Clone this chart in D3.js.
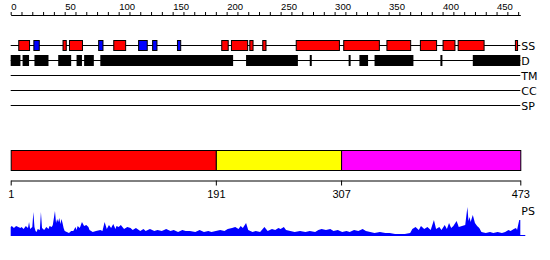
<!DOCTYPE html>
<html>
<head>
<meta charset="utf-8">
<script src="https://cdn.jsdelivr.net/npm/d3@7"></script>
<style>
  body { margin:0; background:#fff; }
  svg { display:block; font-family:"DejaVu Sans", sans-serif; }
</style>
</head>
<body>
<div id="chart"></div>
<script>
// protein feature map: residues 1..473

const seqLength = 473;

// secondary structure: [start, end, type]  H = helix (red), E = strand (blue)
const ssElements = [
  [8,18,'H'],[22,27,'E'],[49,52,'H'],[55,67,'H'],[82,86,'E'],[96,107,'H'],
  [119,127,'E'],[132,136,'E'],[155,158,'E'],[196,202,'H'],[205,220,'H'],
  [222,225,'H'],[234,237,'H'],[265,305,'H'],[309,342,'H'],[349,371,'H'],
  [380,395,'H'],[401,412,'H'],[415,439,'H'],[468,470,'H']
];

// disordered regions
const disorder = [
  [1,10],[12,18],[23,36],[45,57],[62,67],[69,78],[84,207],[219,267],
  [278,279],[314,315],[324,332],[338,374],[399,400],[429,473]
];

const trackNames = ['SS','D','TM','CC','SP'];

// domains
const domains = [[1,191,'#ff0000'],[191,307,'#ffff00'],[307,473,'#ff00ff']];
const domainTicks = [1,191,307,473];

// PS profile, sampled: [residue, value]
const psProfile = [
  [1,8],[2,9],[4,7],[6,9],[8,8],[10,7],[11,8],[13,6],[15,9],[17,7],[18,13],[19,6],
  [21,8],[22,23],[23,8],[24,4],[25,3],[26,6],[28,5],[29,23],[30,7],[32,5],[34,8],
  [36,6],[37,9],[39,8],[40,10],[42,24],[43,12],[44,16],[45,13],[46,17],[47,11],
  [48,16],[49,12],[50,7],[51,4],[53,3],[55,2],[57,4],[59,4],[61,8],[62,5],[63,9],
  [65,7],[67,13],[69,9],[71,10],[73,8],[74,5],[77,3],[80,4],[84,5],[86,4],[88,13],
  [90,6],[92,10],[94,7],[96,11],[98,6],[99,9],[101,8],[103,10],[106,6],[109,8],
  [112,7],[114,5],[117,7],[121,4],[124,6],[126,4],[130,6],[134,4],[137,5],[141,4],
  [145,6],[149,4],[152,5],[156,3],[160,5],[163,4],[167,4],[172,3],[176,5],[180,3],
  [184,4],[187,3],[191,4],[195,5],[199,4],[202,6],[206,7],[209,8],[212,6],[214,9],
  [216,7],[219,12],[221,5],[225,3],[228,4],[232,3],[236,8],[239,4],[243,6],[246,5],
  [249,7],[251,6],[254,8],[256,5],[260,4],[264,3],[269,4],[274,3],[278,4],[283,3],
  [286,5],[289,6],[293,5],[297,6],[300,4],[304,5],[308,3],[312,4],[315,3],[319,5],
  [323,4],[327,6],[330,4],[334,3],[338,2],[343,3],[348,2],[352,2],[357,1],[361,1],
  [366,1],[371,2],[373,6],[376,8],[379,5],[381,9],[384,6],[387,8],[390,5],[393,15],
  [395,6],[398,8],[400,5],[403,10],[405,6],[407,12],[409,7],[411,9],[414,14],[416,8],
  [419,9],[422,10],[424,28],[425,14],[426,18],[427,13],[429,20],[431,12],[433,9],
  [435,7],[437,3],[441,2],[445,3],[448,2],[452,3],[456,2],[459,3],[462,5],[464,4],
  [467,6],[469,7],[470,5],[472,15],[473,15]
];

const W = 550, H = 260;
const svg = d3.select('#chart').append('svg').attr('width',W).attr('height',H);

const x = d3.scaleLinear().domain([1,seqLength]).range([10.7,520.3]);
const xTop = x.copy().domain([0,seqLength-1]);

// top ruler
const topAxis = d3.axisTop(xTop)
  .tickValues(d3.range(0,seqLength,10))
  .tickSize(3).tickSizeOuter(0).tickPadding(2)
  .tickFormat(d => d%50===0 ? d : '');
const gTop = svg.append('g').attr('transform','translate(0,15)').call(topAxis);
gTop.selectAll('text').attr('text-anchor','start').attr('font-size',9.5).attr('fill','#000');
gTop.selectAll('path,line').attr('stroke','#000');

// tracks
const trackY = d3.scalePoint().domain(trackNames).range([45,105]);
svg.append('g').selectAll('line').data(trackNames).join('line')
  .attr('x1',x(1)).attr('x2',x(seqLength))
  .attr('y1',d=>trackY(d)+0.5).attr('y2',d=>trackY(d)+0.5)
  .attr('stroke','#000');
svg.append('g').selectAll('text').data(trackNames).join('text')
  .attr('x',x(seqLength)+1).attr('y',d=>trackY(d)+4.5)
  .attr('font-size',11).text(d=>d);

svg.append('g').selectAll('rect').data(ssElements).join('rect')
  .attr('x',d=>x(d[0])+0.5).attr('width',d=>x(d[1])-x(d[0]))
  .attr('y',trackY('SS')-4.5).attr('height',10)
  .attr('fill',d=>d[2]==='H'?'#ff0000':'#0000ff').attr('stroke','#000');

svg.append('g').selectAll('rect').data(disorder).join('rect')
  .attr('x',d=>x(d[0])).attr('width',d=>Math.max(2,x(d[1])-x(d[0])))
  .attr('y',trackY('D')-5).attr('height',11)
  .attr('fill','#000');

// domain bar
svg.append('g').selectAll('rect').data(domains).join('rect')
  .attr('x',d=>x(d[0])+0.5).attr('width',d=>x(d[1])-x(d[0]))
  .attr('y',150.5).attr('height',20)
  .attr('fill',d=>d[2]).attr('stroke','#000');

const botAxis = d3.axisBottom(x).tickValues(domainTicks)
  .tickSize(5).tickSizeOuter(0).tickPadding(5);
const gBot = svg.append('g').attr('transform','translate(0,180.5)').call(botAxis);
gBot.selectAll('text').attr('font-size',11).attr('fill','#000');
gBot.selectAll('path,line').attr('stroke','#000');

// PS profile
const yPS = d3.scaleLinear().domain([0,30]).range([235,205]);
svg.append('path').datum(psProfile)
  .attr('d', d3.area().x(d=>x(d[0])).y0(yPS(0)).y1(d=>yPS(d[1])))
  .attr('fill','#0000ff');
svg.append('line').attr('x1',x(1)).attr('x2',x(seqLength)+5)
  .attr('y1',yPS(0)+0.5).attr('y2',yPS(0)+0.5).attr('stroke','#0000ff');
svg.append('text').attr('x',x(seqLength)+1).attr('y',215).attr('font-size',11).text('PS');
</script>
</body>
</html>
